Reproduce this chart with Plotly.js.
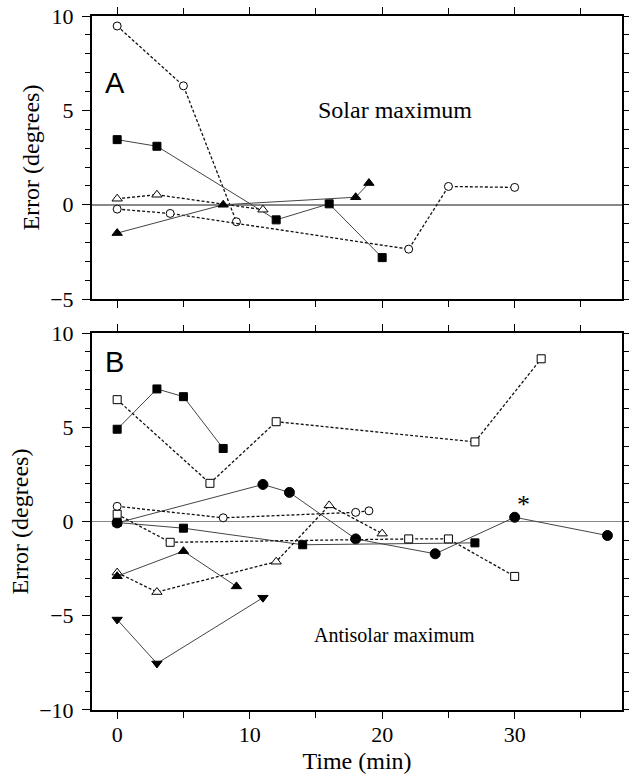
<!DOCTYPE html>
<html><head><meta charset="utf-8">
<script src="https://cdn.plot.ly/plotly-3.0.1.min.js"></script>
<style>html,body{margin:0;padding:0;background:#fff}</style>
</head><body><div id="chart" style="width:629px;height:780px"></div>
<script>
// Panel A (Solar maximum)
const aSqX = [0, 3, 12, 16, 20];
const aSqY = [3.45, 3.1, -0.8, 0.05, -2.8];
const aOTriX = [0, 3, 11];
const aOTriY = [0.32, 0.53, -0.26];
const aTriX = [0, 8, 18, 19];
const aTriY = [-1.5, 0.0, 0.4, 1.15];
const aOCirc1X = [0, 5, 9];
const aOCirc1Y = [9.47, 6.3, -0.9];
const aOCirc2X = [0, 4, 22, 25, 30];
const aOCirc2Y = [-0.23, -0.46, -2.35, 0.97, 0.92];

// Panel B (Antisolar maximum)
const bSq1X = [0, 3, 5, 8];
const bSq1Y = [4.9, 7.04, 6.63, 3.88];
const bOSq1X = [0, 7, 12, 27, 32];
const bOSq1Y = [6.47, 2.03, 5.3, 4.23, 8.64];
const bCircX = [0, 11, 13, 18, 24, 30, 37];
const bCircY = [-0.07, 1.97, 1.55, -0.92, -1.71, 0.23, -0.74];
const bOCircX = [0, 8, 18, 19];
const bOCircY = [0.81, 0.2, 0.49, 0.57];
const bSq2X = [0, 5, 14, 27];
const bSq2Y = [-0.05, -0.35, -1.23, -1.13];
const bOSq2X = [0, 4, 22, 25, 30];
const bOSq2Y = [0.39, -1.1, -0.92, -0.92, -2.91];
const bOTriX = [0, 3, 12, 16, 20];
const bOTriY = [-2.71, -3.74, -2.13, 0.86, -0.64];
const bTriX = [0, 5, 9];
const bTriY = [-2.9, -1.57, -3.44];
const bDTriX = [0, 3, 11];
const bDTriY = [-5.2, -7.53, -4.04];

const xTicks = [0, 10, 20, 30];
const yTicksA = [-5, 0, 5, 10];
const yTicksB = [-10, -5, 0, 5, 10];

function tr(x, y, sym, filled, dashed, ax, ay, size) {
  return {
    x: x, y: y, xaxis: ax, yaxis: ay, type: 'scatter', mode: 'lines+markers',
    line: {color: dashed ? '#111' : '#444', width: dashed ? 1.3 : 1, dash: dashed ? '3px,2px' : 'solid'},
    marker: {symbol: sym, size: size || 8, color: filled ? '#000' : '#fff', line: {color: '#000', width: 1}},
    showlegend: false, hoverinfo: 'skip'
  };
}

const data = [
  tr(aOCirc1X, aOCirc1Y, 'circle', false, true, 'x', 'y'),
  tr(aOCirc2X, aOCirc2Y, 'circle', false, true, 'x', 'y'),
  tr(aSqX, aSqY, 'square', true, false, 'x', 'y', 8),
  tr(aOTriX, aOTriY, 'triangle-up', false, true, 'x', 'y', 9),
  tr(aTriX, aTriY, 'triangle-up', true, false, 'x', 'y', 9),

  tr(bSq1X, bSq1Y, 'square', true, false, 'x2', 'y2', 8),
  tr(bOSq1X, bOSq1Y, 'square', false, true, 'x2', 'y2', 8),
  tr(bCircX, bCircY, 'circle', true, false, 'x2', 'y2', 10),
  tr(bSq2X, bSq2Y, 'square', true, false, 'x2', 'y2', 8),
  tr(bOSq2X, bOSq2Y, 'square', false, true, 'x2', 'y2', 8),
  tr(bOCircX, bOCircY, 'circle', false, true, 'x2', 'y2'),
  tr(bOTriX, bOTriY, 'triangle-up', false, true, 'x2', 'y2', 9),
  tr(bTriX, bTriY, 'triangle-up', true, false, 'x2', 'y2', 9),
  tr(bDTriX, bDTriY, 'triangle-down', true, false, 'x2', 'y2', 9)
];

const serif = '"Liberation Serif", "Times New Roman", serif';
const tickFont = {family: serif, size: 22, color: '#000'};
const titleFont = {family: serif, size: 24, color: '#000'};
const xbase = {
  range: [-1.9, 38.1], tickvals: xTicks, ticks: 'outside', ticklen: 7, tickwidth: 1, tickcolor: '#000',
  tickfont: tickFont, ticklabelstandoff: -3,
  showline: true, linecolor: '#000', linewidth: 2, mirror: 'ticks', showgrid: false, zeroline: false,
  minor: {dtick: 5, tick0: 0, ticks: 'outside', ticklen: 6, tickcolor: '#000', tickwidth: 1, showgrid: false}
};
const ybase = {
  ticks: 'outside', ticklen: 8, tickwidth: 1, tickcolor: '#000',
  tickfont: tickFont, ticklabelstandoff: 4,
  showline: true, linecolor: '#000', linewidth: 2, mirror: 'ticks', showgrid: false,
  zeroline: true, zerolinecolor: '#888', zerolinewidth: 1.5,
  minor: {dtick: 1, tick0: 0, ticks: 'outside', ticklen: 5, tickcolor: '#000', tickwidth: 1, showgrid: false},
  title: {text: 'Error (degrees)', font: titleFont, standoff: 4}
};

const layout = {
  width: 629, height: 780,
  margin: {l: 92, r: 7, t: 16, b: 70},
  paper_bgcolor: '#fff', plot_bgcolor: '#fff',
  font: tickFont,
  xaxis: Object.assign({}, xbase, {anchor: 'y', showticklabels: false}),
  yaxis: Object.assign({}, ybase, {domain: [0.592, 1], range: [-5, 10], tickvals: yTicksA}),
  xaxis2: Object.assign({}, xbase, {anchor: 'y2', title: {text: 'Time (min)', font: titleFont, standoff: 6}}),
  yaxis2: Object.assign({}, ybase, {domain: [0, 0.543], range: [-10, 10], tickvals: yTicksB}),
  annotations: [
    {xref: 'x', yref: 'y', x: -0.2, y: 6.45, text: 'A', showarrow: false, font: {family: '"Liberation Sans", Arial, sans-serif', size: 29, color: '#000'}},
    {xref: 'x', yref: 'y', x: 21.0, y: 5.0, text: 'Solar maximum', showarrow: false, font: {family: serif, size: 24, color: '#000'}},
    {xref: 'x2', yref: 'y2', x: -0.2, y: 8.45, text: 'B', showarrow: false, font: {family: '"Liberation Sans", Arial, sans-serif', size: 29, color: '#000'}},
    {xref: 'x2', yref: 'y2', x: 20.9, y: -6.0, text: 'Antisolar maximum', showarrow: false, font: {family: serif, size: 20, color: '#000'}},
    {xref: 'x2', yref: 'y2', x: 30.7, y: 0.93, text: '*', showarrow: false, font: {family: serif, size: 26, color: '#000'}}
  ]
};

Plotly.newPlot('chart', data, layout, {displayModeBar: false, staticPlot: true});
</script></body></html>
